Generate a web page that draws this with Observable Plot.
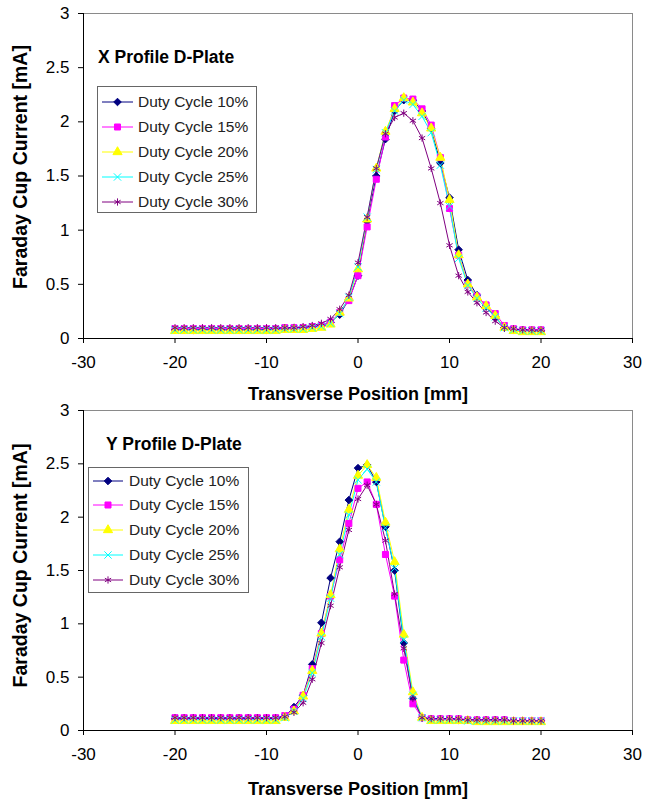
<!DOCTYPE html>
<html><head><meta charset="utf-8">
<script src="https://cdn.jsdelivr.net/npm/d3@7"></script>
<script src="https://cdn.jsdelivr.net/npm/@observablehq/plot@0.6"></script>
<style>
body{margin:0;background:#fff;font-family:"Liberation Sans",Arial,sans-serif;}
#wrap{position:relative;width:646px;height:799px;overflow:hidden;background:#fff;}
.chart{position:absolute;left:0;}
.ttl{position:absolute;font-weight:bold;font-size:17.5px;line-height:20px;color:#000;white-space:nowrap;}
.leg{position:absolute;border:1px solid #666;background:#fff;box-sizing:border-box;}
.row{position:absolute;left:0;height:20px;white-space:nowrap;font-size:15.5px;line-height:20px;color:#222;}
.row svg{position:absolute;left:0;top:0;}
.row span{position:absolute;top:0;}
</style></head>
<body><div id="wrap"></div>
<script>
const series = ["Duty Cycle 10%","Duty Cycle 15%","Duty Cycle 20%","Duty Cycle 25%","Duty Cycle 30%"];
const colors = ["#000080","#FF00FF","#FFFF00","#00FFFF","#800080"];
const symbols = ["diamond2","square","triangle","times","asterisk"];
const positions = [-20,-19,-18,-17,-16,-15,-14,-13,-12,-11,-10,-9,-8,-7,-6,-5,-4,-3,-2,-1,0,1,2,3,4,5,6,7,8,9,10,11,12,13,14,15,16,17,18,19,20];
const xTicks = [-30,-20,-10,0,10,20,30];
const yTicks = [0,0.5,1,1.5,2,2.5,3];
const xLabel = "Transverse Position [mm]";
const yLabel = "Faraday Cup Current [mA]";
const titleX = "X Profile D-Plate";
const titleY = "Y Profile D-Plate";

// X profile
const x10 = [0.08,0.08,0.08,0.08,0.08,0.08,0.08,0.08,0.08,0.08,0.08,0.09,0.09,0.10,0.10,0.11,0.12,0.15,0.22,0.36,0.58,1.08,1.50,1.84,2.10,2.20,2.20,2.10,1.94,1.62,1.30,0.82,0.54,0.40,0.30,0.20,0.10,0.08,0.08,0.07,0.07];
const x15 = [0.09,0.09,0.09,0.09,0.09,0.09,0.09,0.09,0.09,0.09,0.09,0.09,0.10,0.10,0.10,0.11,0.12,0.15,0.24,0.35,0.58,1.03,1.47,1.86,2.15,2.22,2.21,2.12,1.97,1.67,1.20,0.77,0.50,0.39,0.31,0.23,0.12,0.09,0.08,0.08,0.08];
const x20 = [0.07,0.07,0.07,0.07,0.07,0.07,0.07,0.07,0.07,0.07,0.07,0.07,0.08,0.08,0.08,0.09,0.10,0.13,0.24,0.37,0.64,1.10,1.57,1.91,2.12,2.22,2.18,2.08,1.94,1.67,1.28,0.77,0.50,0.38,0.30,0.21,0.10,0.07,0.06,0.06,0.06];
const x25 = [0.08,0.08,0.08,0.08,0.08,0.08,0.08,0.08,0.08,0.08,0.08,0.08,0.09,0.09,0.09,0.10,0.11,0.14,0.23,0.38,0.66,1.12,1.56,1.90,2.10,2.20,2.16,2.05,1.90,1.60,1.22,0.74,0.49,0.37,0.28,0.20,0.10,0.08,0.07,0.07,0.07];
const x30 = [0.10,0.10,0.10,0.10,0.10,0.10,0.10,0.10,0.10,0.10,0.10,0.10,0.10,0.10,0.11,0.12,0.14,0.18,0.27,0.40,0.70,1.12,1.57,1.89,2.04,2.08,2.01,1.85,1.57,1.25,0.86,0.58,0.43,0.33,0.24,0.16,0.10,0.09,0.08,0.08,0.08];
// Y profile
const y10 = [0.11,0.11,0.11,0.11,0.11,0.11,0.11,0.11,0.11,0.11,0.11,0.11,0.13,0.22,0.33,0.62,1.01,1.43,1.77,2.16,2.46,2.49,2.33,1.91,1.50,0.82,0.30,0.12,0.11,0.11,0.11,0.10,0.10,0.10,0.10,0.10,0.10,0.09,0.09,0.09,0.09];
const y15 = [0.12,0.12,0.12,0.12,0.12,0.12,0.12,0.12,0.12,0.12,0.12,0.12,0.14,0.20,0.33,0.58,0.91,1.26,1.60,1.94,2.27,2.33,2.12,1.65,1.26,0.66,0.25,0.12,0.11,0.11,0.11,0.11,0.10,0.10,0.10,0.10,0.10,0.09,0.09,0.09,0.09];
const y20 = [0.09,0.09,0.09,0.09,0.09,0.09,0.09,0.09,0.09,0.09,0.09,0.09,0.12,0.18,0.32,0.56,0.91,1.27,1.70,2.07,2.39,2.49,2.37,1.95,1.58,0.90,0.36,0.12,0.09,0.09,0.09,0.09,0.09,0.08,0.08,0.08,0.08,0.08,0.08,0.08,0.08];
const y25 = [0.10,0.10,0.10,0.10,0.10,0.10,0.10,0.10,0.10,0.10,0.10,0.10,0.12,0.18,0.30,0.54,0.88,1.24,1.65,2.02,2.35,2.45,2.33,1.90,1.52,0.85,0.33,0.12,0.10,0.10,0.10,0.10,0.09,0.09,0.09,0.09,0.09,0.09,0.09,0.09,0.09];
const y30 = [0.12,0.12,0.12,0.12,0.12,0.12,0.12,0.12,0.12,0.12,0.12,0.12,0.13,0.17,0.26,0.48,0.82,1.17,1.53,1.88,2.17,2.30,2.12,1.78,1.28,0.77,0.30,0.12,0.11,0.11,0.11,0.11,0.10,0.10,0.10,0.10,0.10,0.09,0.09,0.09,0.09];

function makeData(arrs){
  const out = [];
  arrs.forEach((a,i)=>a.forEach((v,j)=>out.push({series:series[i], x:positions[j], y:v})));
  return out;
}

function chart(arrs, {height, marginTop, marginBottom, labelDy, yLabelDy}){
  const data = makeData(arrs);
  return Plot.plot({
    width: 646, height, marginLeft: 83, marginRight: 14, marginTop, marginBottom,
    style: {fontFamily: "Liberation Sans, Arial, sans-serif", fontSize: "17px", color: "#000", background: "transparent", overflow: "visible"},
    x: {domain: [-30, 30]},
    y: {domain: [0, 3]},
    color: {domain: series, range: colors},
    symbol: {domain: series, range: symbols},
    marks: [
      Plot.frame({stroke: "#8a8a8a", strokeWidth: 1}),
      Plot.line(data, {x: "x", y: "y", z: "series", stroke: "series", strokeWidth: 1}),
      Plot.dot(data, {x: "x", y: "y", symbol: "series", fill: "series", stroke: "series", r: 3.4, strokeWidth: 1}),
      Plot.ruleY([0], {stroke: "#000"}),
      Plot.ruleX([-30], {stroke: "#000"}),
      Plot.axisX({ticks: xTicks, tickFormat: d => String(d), tickSize: 5, tickPadding: 12, label: null, fontSize: 17}),
      Plot.axisY({ticks: yTicks, tickFormat: d => String(d), tickSize: 5, tickPadding: 9, label: null, fontSize: 17}),
      Plot.text([xLabel], {text: d => d, frameAnchor: "bottom", dy: labelDy, lineAnchor: "middle", textAnchor: "middle", fontWeight: "bold", fontSize: 18}),
      Plot.text([yLabel], {text: d => d, frameAnchor: "left", dx: -63, dy: yLabelDy, rotate: -90, textAnchor: "middle", lineAnchor: "middle", fontWeight: "bold", fontSize: 19.5})
    ]
  });
}

const wrap = document.getElementById("wrap");
const c1 = chart([x10,x15,x20,x25,x30], {height: 400, marginTop: 13, marginBottom: 62, labelDy: 56, yLabelDy: -9});
c1.classList.add("chart"); c1.style.top = "0px";
wrap.appendChild(c1);
const c2 = chart([y10,y15,y20,y25,y30], {height: 399, marginTop: 10, marginBottom: 69, labelDy: 59, yLabelDy: -5});
c2.classList.add("chart"); c2.style.top = "400px";
wrap.appendChild(c2);

const symMap = {diamond2: d3.symbolDiamond2, square: d3.symbolSquare, triangle: d3.symbolTriangle, times: d3.symbolTimes, asterisk: d3.symbolAsterisk};

function legend(title, {tx, ty, bx, by, bw, bh, rows, sw0, sw1, tx0}){
  const t = document.createElement("div");
  t.className = "ttl"; t.textContent = title;
  t.style.left = tx + "px"; t.style.top = (ty - 10) + "px";
  wrap.appendChild(t);
  const box = document.createElement("div");
  box.className = "leg";
  Object.assign(box.style, {left: bx + "px", top: by + "px", width: bw + "px", height: bh + "px"});
  wrap.appendChild(box);
  series.forEach((s, i) => {
    const row = document.createElement("div");
    row.className = "row";
    row.style.top = (rows[i] - by - 10) + "px";
    row.style.width = (bw - 2) + "px";
    const svg = d3.create("svg").attr("width", sw1 + 4).attr("height", 20);
    svg.append("line").attr("x1", sw0).attr("x2", sw1).attr("y1", 10).attr("y2", 10).attr("stroke", colors[i]).attr("stroke-width", 1);
    const size = Math.PI * 3.4 * 3.4;
    svg.append("path").attr("transform", `translate(${(sw0 + sw1) / 2},10)`)
      .attr("d", d3.symbol(symMap[symbols[i]], size)())
      .attr("fill", colors[i]).attr("stroke", colors[i]).attr("stroke-width", 1);
    row.appendChild(svg.node());
    const sp = document.createElement("span");
    sp.textContent = s; sp.style.left = tx0 + "px";
    row.appendChild(sp);
    box.appendChild(row);
  });
}

legend(titleX, {tx: 98, ty: 57, bx: 97, by: 86, bw: 160, bh: 127, rows: [101,126,151,176,201], sw0: 4, sw1: 35, tx0: 40});
legend(titleY, {tx: 106, ty: 444, bx: 88, by: 467, bw: 161, bh: 126, rows: [480,504,529,554,579], sw0: 4, sw1: 34, tx0: 40});
</script>
</body></html>
